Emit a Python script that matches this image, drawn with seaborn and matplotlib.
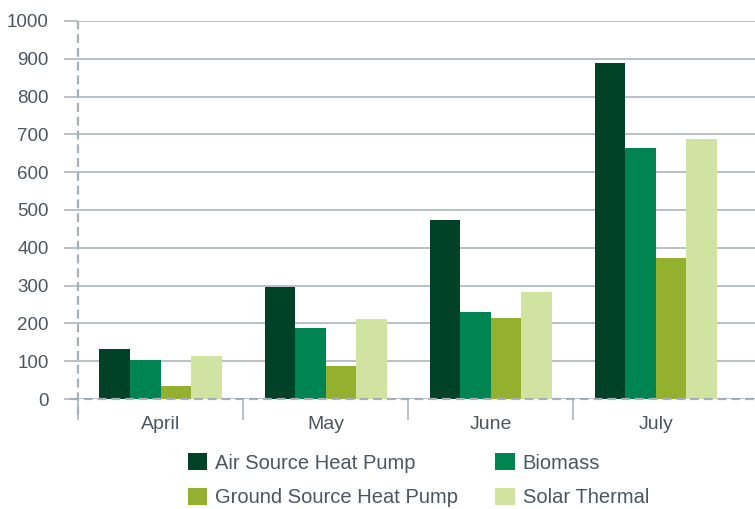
import pandas as pd
import numpy as np
import matplotlib
matplotlib.use("Agg")
import matplotlib.pyplot as plt
import seaborn as sns

TEXT = "#4b5661"
GRID = "#a7b0b7"

months = ["April", "May", "June", "July"]
technologies = ["Air Source Heat Pump", "Biomass", "Ground Source Heat Pump", "Solar Thermal"]
air_source = [133, 297, 474, 890]
biomass = [104, 189, 229, 664]
ground_source = [35, 86, 213, 373]
solar_thermal = [115, 212, 282, 688]
colors = ["#004228", "#008452", "#93b02e", "#d0e3a0"]

df = pd.DataFrame({
    "month": months * 4,
    "tech": np.repeat(technologies, len(months)),
    "value": air_source + biomass + ground_source + solar_thermal,
})

sns.set_theme(style="white")
plt.rcParams["font.family"] = ["Liberation Sans", "DejaVu Sans"]

fig = plt.figure(figsize=(7.55, 5.09), dpi=100)
ax = fig.add_axes([78 / 755, 110 / 509, 1 - 78 / 755, 378 / 509])

sns.barplot(data=df, x="month", y="value", hue="tech", order=months,
            hue_order=technologies, palette=colors, saturation=1,
            width=0.74, gap=0, linewidth=0, ax=ax)

ax.set_xlim(-0.5, 3.6)
ax.set_ylim(0, 1000)
ax.set_yticks(range(0, 1001, 100))
ax.yaxis.grid(True, color=GRID, linewidth=1.1)
ax.set_axisbelow(True)
ax.set_xlabel("")
ax.set_ylabel("")
for s in ["top", "right", "left", "bottom"]:
    ax.spines[s].set_visible(False)

# dashed axes
ax.plot([-0.5, -0.5], [-42, 1000], color=GRID, lw=1.6, ls=(0, (4, 2.2)),
        clip_on=False, zorder=3)
ax.plot([-0.55, 3.6], [0, 0], color=GRID, lw=1.6, ls=(0, (4, 2.2)),
        clip_on=False, zorder=3)

ax.tick_params(axis="y", length=10, color=GRID, width=1.1, pad=11,
               labelsize=13.5, labelcolor=TEXT, left=True)
ax.tick_params(axis="x", length=0, pad=12, labelsize=14, labelcolor=TEXT)
ax.set_xticks([-0.5, 0.5, 1.5, 2.5], minor=True)
ax.tick_params(axis="x", which="minor", length=15, color=GRID, width=1.1,
               bottom=True)

handles, labels = ax.get_legend_handles_labels()
ax.get_legend().remove()
order = [0, 2, 1, 3]
fig.legend([handles[i] for i in order], [labels[i] for i in order],
           ncol=2, frameon=False, loc="upper left",
           bbox_to_anchor=(188 / 755, 1 - 453 / 509), fontsize=14.5,
           labelcolor=TEXT, handlelength=0.95, handleheight=0.95,
           handletextpad=0.4, columnspacing=1.85, labelspacing=0.75,
           borderpad=0, borderaxespad=0)

fig.savefig("out.png", dpi=100)
